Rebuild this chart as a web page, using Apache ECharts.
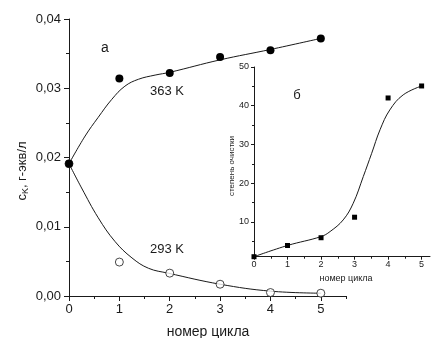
<!DOCTYPE html>
<html>
<head>
<meta charset="utf-8">
<script src="https://cdn.jsdelivr.net/npm/echarts@6/dist/echarts.min.js"></script>
<style>
  html, body { margin: 0; padding: 0; background: #fff; }
  #chart { width: 431px; height: 338px; }
</style>
</head>
<body>
<div id="chart"></div>
<script>
// Main panel (а): concentration vs cycle number
const cycles = [0, 1, 2, 3, 4, 5];
const conc363 = [0.0191, 0.0314, 0.0322, 0.0345, 0.0355, 0.0372];
const conc293 = [0.0191, 0.0049, 0.0033, 0.0017, 0.0005, 0.0004];

// Fitted curves traced through the panel
const fit363X = [0, 0.32, 0.58, 0.85, 1.11, 1.38, 1.71, 2, 3, 4, 5];
const fit363Y = [0.0191, 0.0231, 0.0258, 0.0284, 0.0303, 0.0313, 0.0319, 0.0323, 0.0341, 0.0356, 0.0372];
const fit293X = [0, 0.25, 0.58, 0.91, 1.25, 1.58, 1.97, 3, 4, 5];
const fit293Y = [0.0191, 0.0156, 0.0113, 0.0079, 0.0055, 0.0040, 0.0033, 0.0017, 0.0007, 0.0004];

// Inset (б): degree of purification vs cycle number
const insetCycles = [0, 1, 2, 3, 4, 5];
const purification = [1.0, 3.9, 5.9, 11.2, 42.0, 45.1];
const fitInsetX = [0, 1, 2, 2.27, 2.66, 2.96, 3.26, 3.51, 3.76, 4.05, 4.45, 5];
const fitInsetY = [1.0, 3.9, 6.2, 7.5, 10.5, 14.8, 21.7, 27.7, 33.8, 38.9, 42.8, 45.1];

// Tick values
const mainXMajor = [0, 1, 2, 3, 4, 5];
const mainXMinor = [0.5, 1.5, 2.5, 3.5, 4.5, 5.5];
const mainYMajor = [0, 0.01, 0.02, 0.03, 0.04];
const mainYMinor = [0.005, 0.015, 0.025, 0.035];
const insetXMajor = [0, 1, 2, 3, 4, 5];
const insetXMinor = [0.5, 1.5, 2.5, 3.5, 4.5];
const insetYMajor = [10, 20, 30, 40, 50];
const insetYMinor = [5, 15, 25, 35, 45];

const FONT = 'Liberation Sans, Arial, sans-serif';
const INK = '#1a1a1a';

const pairs = (xs, ys) => xs.map((x, i) => [x, ys[i]]);

// One value axis; major axes carry line + labels, minor axes only short ticks
function axis(opts) {
  return {
    type: 'value',
    gridIndex: opts.grid,
    position: opts.position,
    min: opts.min,
    max: opts.max,
    splitLine: { show: false },
    axisLine: { show: opts.major, onZero: false, lineStyle: { color: INK, width: 1 } },
    axisTick: {
      show: true, inside: false, length: opts.tickLen,
      customValues: opts.ticks, lineStyle: { color: INK, width: 1 }
    },
    axisLabel: opts.major ? {
      show: true, customValues: opts.ticks, margin: opts.margin,
      color: INK, fontFamily: FONT, fontSize: opts.fontSize,
      formatter: opts.fmt
    } : { show: false }
  };
}

const mainYFmt = v => v.toFixed(2).replace('.', ',');
const intFmt = v => String(Math.round(v));

const chart = echarts.init(document.getElementById('chart'), null, { renderer: 'canvas' });

chart.setOption({
  animation: false,
  backgroundColor: '#fff',
  grid: [
    { left: 69, top: 19, width: 277, height: 277 },
    { left: 254, top: 67, width: 176, height: 189.7 }
  ],
  xAxis: [
    axis({ grid: 0, position: 'bottom', min: 0, max: 5.5, major: true, ticks: mainXMajor, tickLen: 5, margin: 7, fontSize: 13, fmt: intFmt }),
    axis({ grid: 0, position: 'bottom', min: 0, max: 5.5, major: false, ticks: mainXMinor, tickLen: 3 }),
    axis({ grid: 1, position: 'bottom', min: 0, max: 5.25, major: true, ticks: insetXMajor, tickLen: 3, margin: 3, fontSize: 9, fmt: intFmt }),
    axis({ grid: 1, position: 'bottom', min: 0, max: 5.25, major: false, ticks: insetXMinor, tickLen: 2 })
  ],
  yAxis: [
    axis({ grid: 0, position: 'left', min: 0, max: 0.04, major: true, ticks: mainYMajor, tickLen: 5, margin: 8, fontSize: 13, fmt: mainYFmt }),
    axis({ grid: 0, position: 'left', min: 0, max: 0.04, major: false, ticks: mainYMinor, tickLen: 3 }),
    axis({ grid: 1, position: 'left', min: 1, max: 50, major: true, ticks: insetYMajor, tickLen: 3, margin: 5, fontSize: 9, fmt: intFmt }),
    axis({ grid: 1, position: 'left', min: 1, max: 50, major: false, ticks: insetYMinor, tickLen: 2 })
  ],
  series: [
    {
      type: 'line', xAxisIndex: 0, yAxisIndex: 0, smooth: 0.4, symbol: 'none', clip: false,
      lineStyle: { color: INK, width: 1 }, data: pairs(fit363X, fit363Y), z: 2
    },
    {
      type: 'line', xAxisIndex: 0, yAxisIndex: 0, smooth: 0.4, symbol: 'none', clip: false,
      lineStyle: { color: INK, width: 1 }, data: pairs(fit293X, fit293Y), z: 2
    },
    {
      type: 'scatter', xAxisIndex: 0, yAxisIndex: 0, symbol: 'circle', symbolSize: 8, clip: false,
      itemStyle: { color: '#fff', borderColor: INK, borderWidth: 1 },
      data: pairs(cycles, conc293), z: 3
    },
    {
      type: 'scatter', xAxisIndex: 0, yAxisIndex: 0, symbol: 'circle', symbolSize: 8, clip: false,
      itemStyle: { color: '#000', opacity: 1 },
      data: pairs(cycles, conc363), z: 4
    },
    {
      type: 'line', xAxisIndex: 2, yAxisIndex: 2, smooth: 0.4, symbol: 'none', clip: false,
      lineStyle: { color: INK, width: 1 }, data: pairs(fitInsetX, fitInsetY), z: 2
    },
    {
      type: 'scatter', xAxisIndex: 2, yAxisIndex: 2, symbol: 'rect', symbolSize: 5, clip: false,
      itemStyle: { color: '#000', opacity: 1 },
      data: pairs(insetCycles, purification), z: 3
    }
  ],
  graphic: [
    {
      type: 'text', x: 22, y: 171, rotation: Math.PI / 2,
      style: {
        text: '{m|c}{s|K}{m|, г-экв/л}',
        align: 'center', verticalAlign: 'middle', fill: INK,
        rich: {
          m: { fontFamily: FONT, fontSize: 13, fill: INK, lineHeight: 16 },
          s: { fontFamily: FONT, fontSize: 9, fill: INK, lineHeight: 16, padding: [8, 0, 0, 0] }
        }
      }
    },
    { type: 'text', x: 208, y: 332, style: { text: 'номер цикла', align: 'center', verticalAlign: 'middle', fill: INK, font: '14px ' + FONT } },
    { type: 'text', x: 105, y: 48, style: { text: 'а', align: 'center', verticalAlign: 'middle', fill: INK, font: '14px ' + FONT } },
    { type: 'text', x: 150, y: 91, style: { text: '363 K', align: 'left', verticalAlign: 'middle', fill: INK, font: '13px ' + FONT } },
    { type: 'text', x: 150, y: 249, style: { text: '293 K', align: 'left', verticalAlign: 'middle', fill: INK, font: '13px ' + FONT } },
    { type: 'text', x: 297, y: 95, style: { text: 'б', align: 'center', verticalAlign: 'middle', fill: INK, font: '13px ' + FONT } },
    { type: 'text', x: 346, y: 279, style: { text: 'номер цикла', align: 'center', verticalAlign: 'middle', fill: INK, font: '9px ' + FONT } },
    { type: 'text', x: 232, y: 166, rotation: Math.PI / 2, style: { text: 'степень очистки', align: 'center', verticalAlign: 'middle', fill: INK, font: '8px ' + FONT } }
  ]
});
</script>
</body>
</html>
